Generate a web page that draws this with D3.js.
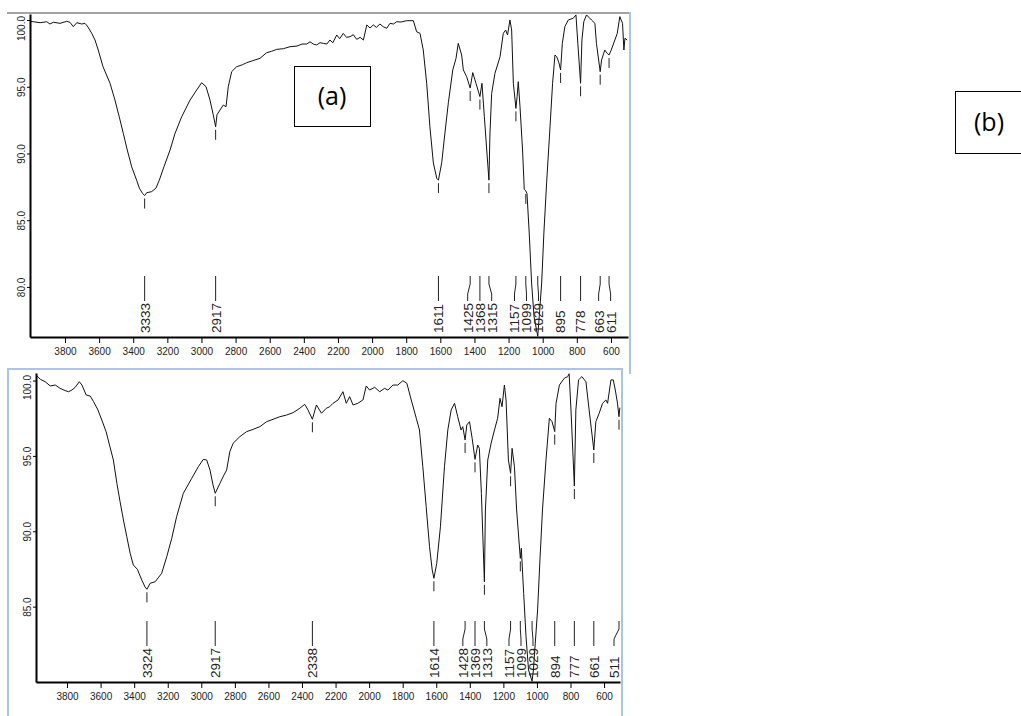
<!DOCTYPE html>
<head>
  <meta charset="utf-8">
  <script src="https://d3js.org/d3.v7.min.js"></script>
  <style>
body { margin: 0; background: #fff; }
svg { display: block; font-family: "Liberation Sans", Arial, sans-serif; }
.curve { fill: none; stroke: #111; stroke-width: 1; }
.axis path.domain { stroke: #000; stroke-width: 2; }
.axis .tick line { stroke: #000; stroke-width: 1; }
.axis .tick text { font-size: 10px; fill: #222; }
.peak-line { fill: none; stroke: #222; stroke-width: 1; }
.peak-label { font-size: 13.5px; fill: #222; }
.tag-box { fill: #fff; stroke: #000; stroke-width: 1; }
.tag { font-family: "Open Sans", sans-serif; font-size: 25px; fill: #000; }
  </style>
</head>
<body>
  <script>
    // spectrum (a): wavenumber (cm-1) and transmittance (%)
    var wnA = [4000,3985,3946,3907,3888,3868,3829,3790,3771,3751,3731,3702,3683,3669,3643,3624,3605,3577,3536,3507,
      3482,3458,3435,3409,3380,3364,3345,3333,3321,3292,3267,3247,3220,3184,3155,3116,3067,3028,2999,2973,
      2950,2931,2917,2909,2891,2872,2856,2843,2823,2794,2760,2735,2700,2657,2618,2590,2559,2520,2481,2440,
      2410,2383,2364,2345,2325,2305,2286,2265,2247,2230,2207,2190,2169,2150,2129,2110,2090,2070,2051,2031,
      2012,1993,1975,1954,1935,1914,1895,1875,1856,1830,1797,1758,1739,1719,1700,1680,1661,1641,1621,1611,
      1592,1573,1553,1527,1508,1495,1475,1465,1446,1425,1410,1391,1368,1356,1342,1328,1315,1309,1299,1280,
      1250,1231,1217,1206,1192,1182,1172,1157,1150,1143,1133,1118,1108,1099,1092,1079,1065,1051,1029,1020,
      1006,993,977,957,942,928,918,905,895,885,870,850,821,805,794,778,770,759,743,714,
      694,685,663,655,636,622,611,600,577,563,548,532,524,518,505];
    var trA = [99.9,99.87,99.8,99.87,99.7,99.83,99.75,99.9,99.83,99.5,99.8,99.7,99.75,99.55,99.0,98.5,97.75,96.5,95.26,94.0,
      92.75,91.5,90.26,89.0,88.0,87.4,87.0,86.85,87.06,87.14,87.4,88.0,89.0,90.26,91.5,92.75,94.0,94.76,95.3,95.0,
      94.0,92.9,92.0,92.9,93.26,93.63,93.5,95.0,96.13,96.5,96.65,96.8,96.95,97.13,97.55,97.65,97.8,97.85,98.0,98.05,
      98.2,98.2,98.37,98.2,98.13,98.3,98.25,98.2,98.5,98.3,98.88,98.6,99.0,98.7,98.75,98.9,98.55,98.7,98.5,99.63,
      99.4,99.63,99.45,99.7,99.5,99.38,99.75,99.7,99.87,99.85,99.95,99.95,99.12,99.0,97.75,95.26,92.0,89.3,88.14,88.0,
      89.3,91.54,93.8,96.26,97.13,98.25,97.38,96.26,95.76,94.9,96.06,95.26,94.26,95.26,92.76,90.26,88.0,91.54,94.5,96.0,
      97.25,99.0,99.25,98.88,100.0,99.25,95.26,93.38,94.26,95.38,93.5,90.26,87.3,87.2,87.0,84.04,80.3,77.8,76.3,77.8,
      80.3,84.04,87.8,92.0,95.26,97.38,97.25,96.8,96.26,98.25,99.5,100.0,100.13,100.38,98.25,95.26,98.5,99.88,100.38,100.0,
      99.75,98.25,96.13,97.0,97.75,97.5,97.38,97.7,98.5,99.0,100.25,99.75,97.75,98.63,98.5];
    var peaksA = [3333,2917,1611,1425,1368,1315,1157,1099,1029,895,778,663,611];
    var peakTA = [86.85,92.0,88.0,94.9,94.26,88.0,93.38,87.2,76.3,96.26,95.26,96.13,97.38];

    // spectrum (b)
    var wnB = [3985,3959,3930,3900,3870,3841,3811,3791,3771,3751,3727,3711,3686,3662,3642,3616,3593,3567,3547,3524,
      3503,3484,3464,3444,3424,3405,3381,3355,3335,3324,3305,3275,3236,3206,3176,3147,3107,3057,3018,2988,
      2968,2948,2930,2917,2889,2865,2849,2830,2810,2770,2730,2691,2651,2611,2572,2532,2492,2453,2413,2384,
      2364,2338,2314,2284,2255,2235,2215,2185,2156,2136,2116,2096,2067,2037,2017,1997,1967,1937,1908,1888,
      1858,1829,1799,1775,1749,1719,1700,1680,1660,1640,1624,1614,1597,1575,1551,1531,1511,1491,1472,1452,
      1442,1428,1418,1402,1386,1369,1353,1343,1331,1313,1307,1293,1273,1253,1234,1220,1208,1194,1184,1170,
      1157,1148,1134,1121,1099,1093,1079,1065,1050,1029,1021,1010,996,982,967,946,926,910,894,886,
      866,837,817,808,797,777,768,752,732,708,689,661,649,629,609,589,579,559,545,533,
      520,511,506];
    var trB = [100.37,100.08,99.92,99.64,99.7,99.48,99.33,99.26,99.37,99.55,99.92,99.7,99.04,98.97,98.6,98.05,97.38,96.6,95.72,94.73,
      93.18,91.96,90.75,89.64,88.54,87.76,87.48,86.77,86.3,86.15,86.55,86.65,87.21,88.31,89.53,90.97,92.52,93.51,94.28,94.77,
      94.73,94.06,93.07,92.52,93.18,93.73,94.06,95.28,95.84,96.28,96.61,96.76,96.94,97.27,97.43,97.6,97.71,97.87,98.16,98.42,
      98.05,97.43,98.38,97.83,98.16,98.26,98.49,98.71,99.26,98.49,98.93,98.38,98.49,98.71,99.64,99.37,99.55,99.26,99.48,99.37,
      99.7,99.7,99.99,99.82,98.71,97.5,96.72,94.28,91.63,88.98,87.43,86.88,87.87,90.3,94.28,96.72,98.05,98.49,97.6,96.72,
      96.94,96.06,97.05,97.27,96.17,94.77,95.72,95.5,92.52,86.65,91.41,94.73,95.84,96.72,97.5,98.82,98.26,99.7,98.71,94.73,
      93.85,95.5,94.28,91.41,88.2,88.87,85.88,83.0,80.8,80.05,80.8,82.57,84.78,88.1,91.41,94.73,97.5,97.27,96.61,98.49,
      99.7,100.15,100.26,100.45,98.05,93.0,98.05,100.04,100.26,99.92,98.05,95.39,97.27,97.83,98.49,98.71,98.49,100.04,100.04,99.37,
      98.5,97.6,98.2];
    var peaksB = [3324,2917,2338,1614,1428,1369,1313,1157,1099,1029,894,777,661,511];
    var peakTB = [86.15,92.52,97.43,86.88,96.06,94.77,86.65,93.85,88.2,80.05,96.61,93.0,95.39,97.6];

    var xTicks = [3800,3600,3400,3200,3000,2800,2600,2400,2200,2000,1800,1600,1400,1200,1000,800,600];
    var yTicksA = [100,95,90,85,80];
    var yTicksB = [100,95,90,85];

    var svg = d3.select("body").append("svg")
      .attr("width", 1021)
      .attr("height", 716);

    // window frames around the two screenshots
    svg.append("line").attr("x1", 7).attr("x2", 631).attr("y1", 13).attr("y2", 13)
      .attr("stroke", "#a3a3a3").attr("stroke-width", 2);
    svg.append("line").attr("x1", 630).attr("x2", 630).attr("y1", 12).attr("y2", 374)
      .attr("stroke", "#a9c4e6").attr("stroke-width", 2);
    svg.append("rect").attr("x", 8).attr("y", 369).attr("width", 614).attr("height", 360)
      .attr("fill", "none").attr("stroke", "#a9c4e6").attr("stroke-width", 2);

    function drawPanel(p) {
      var x = d3.scaleLinear().domain(p.xDomain).range([p.left, p.right]);
      var y = d3.scaleLinear().domain(p.yDomain).range([p.bottom, p.top]);
      var g = svg.append("g");

      g.append("g")
        .attr("class", "axis")
        .attr("transform", "translate(0," + p.bottom + ")")
        .call(d3.axisBottom(x).tickValues(xTicks).tickSize(6).tickSizeOuter(0).tickPadding(5).tickFormat(d3.format("d")));

      var ya = g.append("g")
        .attr("class", "axis")
        .attr("transform", "translate(" + p.left + ",0)")
        .call(d3.axisLeft(y).tickValues(p.yTicks).tickSize(3).tickSizeOuter(0).tickFormat(d3.format(".1f")));
      // labels read bottom-to-top, kept inside the plot height
      ya.selectAll(".tick text")
        .attr("transform", "rotate(-90)")
        .attr("text-anchor", "middle")
        .attr("y", -8.5)
        .attr("dy", "0.35em")
        .attr("x", function(d) { return -(Math.max(y(d), p.top + 14) - y(d)); });

      var pts = p.wn.map(function(w, i) { return [w, p.tr[i]]; });
      g.append("path")
        .datum(pts)
        .attr("class", "curve")
        .attr("d", d3.line().x(function(d) { return x(d[0]); }).y(function(d) { return y(d[1]); }));

      // small marks under each peak
      p.peaks.forEach(function(w, i) {
        var t = p.peakT[i];
        if (t < p.yDomain[0] + 1) return;
        g.append("line").attr("class", "peak-line")
          .attr("x1", x(w)).attr("x2", x(w))
          .attr("y1", y(t) + 3).attr("y2", y(t) + 13);
      });

      // peak labels, nudged apart where crowded
      var px = p.peaks.map(function(w) { return x(w); });
      var lx = spread(px, 12, p.left + 6, p.right - 6);
      var top = p.bottom - 61, bot = p.bottom - 36;
      p.peaks.forEach(function(w, i) {
        var d = Math.abs(lx[i] - px[i]) < 0.5
          ? "M" + px[i] + "," + top + "V" + bot
          : "M" + px[i] + "," + top + "V" + (top + 8) + "L" + lx[i] + "," + (top + 18) + "V" + bot;
        g.append("path").attr("class", "peak-line").attr("d", d);
        g.append("text").attr("class", "peak-label")
          .attr("transform", "translate(" + lx[i] + "," + (p.bottom - 4) + ") rotate(-90)")
          .attr("dy", "0.36em")
          .text(w);
      });
    }

    function spread(xs, gap, lo, hi) {
      var out = xs.slice();
      for (var it = 0; it < 200; it++) {
        for (var i = 1; i < out.length; i++) {
          var d = out[i] - out[i - 1];
          if (d < gap) { var m = (gap - d) / 2; out[i - 1] -= m; out[i] += m; }
        }
        for (i = 0; i < out.length; i++) out[i] = Math.max(lo, Math.min(hi, out[i]));
      }
      return out;
    }

    drawPanel({ wn: wnA, tr: trA, peaks: peaksA, peakT: peakTA, yTicks: yTicksA,
      xDomain: [4005, 500], yDomain: [76.25, 100.45], left: 30, right: 628, top: 14, bottom: 337 });
    drawPanel({ wn: wnB, tr: trB, peaks: peaksB, peakT: peakTB, yTicks: yTicksB,
      xDomain: [3985, 505], yDomain: [80, 100.5], left: 36, right: 620, top: 373, bottom: 682 });

    // panel tags
    svg.append("rect").attr("class", "tag-box").attr("x", 294.5).attr("y", 66.5).attr("width", 76).attr("height", 60);
    svg.append("text").attr("class", "tag").attr("x", 332).attr("y", 96).attr("dy", "0.35em")
      .attr("text-anchor", "middle").text("(a)");
    svg.append("rect").attr("class", "tag-box").attr("x", 955.5).attr("y", 91.5).attr("width", 80).attr("height", 62);
    svg.append("text").attr("class", "tag").attr("x", 989).attr("y", 122).attr("dy", "0.35em")
      .attr("text-anchor", "middle").text("(b)");
  </script>
</body>
